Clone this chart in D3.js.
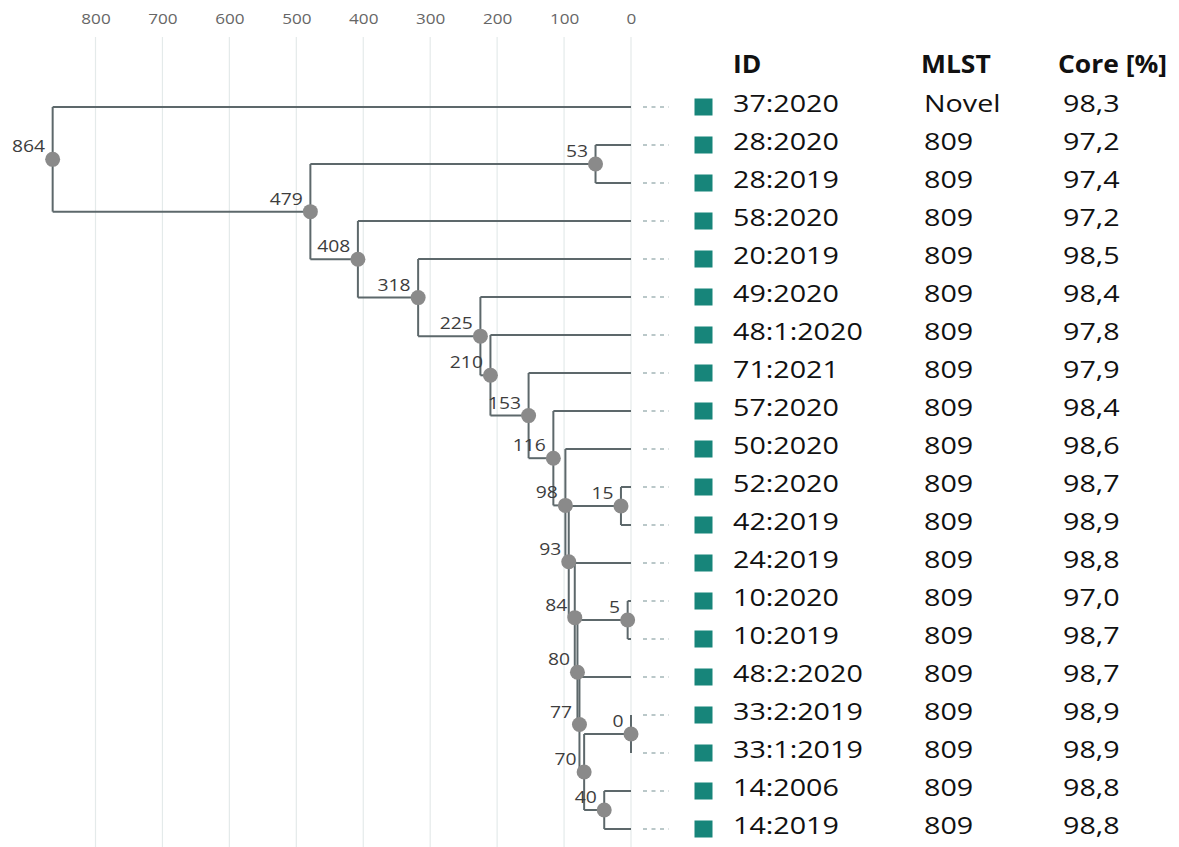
<!DOCTYPE html>
<html>
<head>
<meta charset="utf-8">
<script src="https://cdn.jsdelivr.net/npm/d3@7"></script>
<style>
  html, body { margin: 0; padding: 0; background: #fff; }
  svg { display: block; }
</style>
</head>
<body>
<svg id="chart" width="1179" height="847"></svg>
<script>
// Isolates, top to bottom, with their sequence type and core-genome percentage
const ids  = ["37:2020","28:2020","28:2019","58:2020","20:2019","49:2020","48:1:2020","71:2021",
              "57:2020","50:2020","52:2020","42:2019","24:2019","10:2020","10:2019","48:2:2020",
              "33:2:2019","33:1:2019","14:2006","14:2019"];
const mlst = ["Novel","809","809","809","809","809","809","809","809","809",
              "809","809","809","809","809","809","809","809","809","809"];
const core = ["98,3","97,2","97,4","97,2","98,5","98,4","97,8","97,9","98,4","98,6",
              "98,7","98,9","98,8","97,0","98,7","98,7","98,9","98,9","98,8","98,8"];

// Merge steps: [upper child, lower child, allele distance]; "m<i>" refers to merge i
const merges = [
  ["28:2020", "28:2019", 53],     // m0
  ["52:2020", "42:2019", 15],     // m1
  ["10:2020", "10:2019", 5],      // m2
  ["33:2:2019", "33:1:2019", 0],  // m3
  ["14:2006", "14:2019", 40],     // m4
  ["m3", "m4", 70],               // m5
  ["48:2:2020", "m5", 77],        // m6
  ["m2", "m6", 80],               // m7
  ["24:2019", "m7", 84],          // m8
  ["m1", "m8", 93],               // m9
  ["50:2020", "m9", 98],          // m10
  ["57:2020", "m10", 116],        // m11
  ["71:2021", "m11", 153],        // m12
  ["48:1:2020", "m12", 210],      // m13
  ["49:2020", "m13", 225],        // m14
  ["20:2019", "m14", 318],        // m15
  ["58:2020", "m15", 408],        // m16
  ["m0", "m16", 479],             // m17
  ["37:2020", "m17", 864]         // m18
];

const axisTicks = [0, 100, 200, 300, 400, 500, 600, 700, 800];
const headers = ["ID", "MLST", "Core [%]"];

// ---------------------------------------------------------------
const svg = d3.select("#chart");
const FONT = "'Open Sans', 'Noto Sans', sans-serif";

const x = d3.scaleLinear().domain([0, 800]).range([631, 95.5]);
const y = d3.scalePoint().domain(ids).range([107, 829]);

// text placed at (tx, ty) and stretched horizontally around its anchor
function stretchedText(sel, sx) {
  return sel.attr("transform", d => `translate(${d.tx},${d.ty}) scale(${sx},1)`);
}

// build the hierarchy from the merge list
function buildNode(key) {
  if (/^m\d+$/.test(key)) {
    const m = merges[+key.slice(1)];
    return { name: key, dist: m[2], children: [buildNode(m[0]), buildNode(m[1])] };
  }
  return { name: key, dist: 0 };
}
const root = d3.hierarchy(buildNode("m" + (merges.length - 1)));
root.eachAfter(n => {
  n.px = x(n.data.dist);
  if (n.children) {
    const ys = n.children.map(c => c.py);
    n.py = (d3.min(ys) + d3.max(ys)) / 2;
  } else {
    n.py = y(n.data.name);
  }
});

// grid + axis labels
svg.append("g").selectAll("line").data(axisTicks).join("line")
  .attr("x1", d => x(d)).attr("x2", d => x(d))
  .attr("y1", 37).attr("y2", 847)
  .attr("stroke", "#e4eaea").attr("stroke-width", 1.2);
const axisG = svg.append("g").attr("transform", "translate(0,24)")
  .call(d3.axisTop(x).tickValues(axisTicks).tickSize(0).tickPadding(0));
axisG.select(".domain").remove();
axisG.selectAll("text")
  .attr("font-family", FONT).attr("font-size", 14.5).attr("fill", "#666")
  .attr("dy", 0)
  .attr("transform", "scale(1.18,1)");

// branches
const gTree = svg.append("g").attr("fill", "none").attr("stroke", "#5d686b").attr("stroke-width", 2);
const inner = root.descendants().filter(n => n.children);
// vertical span of each internal node
gTree.selectAll("line.v").data(inner).join("line")
  .attr("class", "v")
  .attr("x1", d => d.px).attr("x2", d => d.px)
  .attr("y1", d => d3.min(d.children, c => c.py))
  .attr("y2", d => d3.max(d.children, c => c.py));
// horizontal branch to each child
gTree.selectAll("line.h").data(root.links()).join("line")
  .attr("class", "h")
  .attr("x1", d => d.source.px).attr("x2", d => d.target.px)
  .attr("y1", d => d.target.py).attr("y2", d => d.target.py);

// internal nodes with their distances
svg.append("g").selectAll("circle").data(inner).join("circle")
  .attr("cx", d => d.px).attr("cy", d => d.py).attr("r", 7.5)
  .attr("fill", "#8a8a8a");
stretchedText(
  svg.append("g").selectAll("text")
    .data(inner.map(n => ({ tx: n.px - 7.5, ty: n.py - 7, t: n.data.dist })))
    .join("text")
    .attr("text-anchor", "end").attr("font-family", FONT).attr("font-size", 16.5)
    .attr("fill", "#3d3d3d").text(d => d.t), 1.17);

// leader dashes and colour keys
const rows = svg.append("g");
rows.selectAll("line").data(ids).join("line")
  .attr("x1", 643).attr("x2", 669)
  .attr("y1", d => y(d)).attr("y2", d => y(d))
  .attr("stroke", "#a4b6b8").attr("stroke-width", 1.4).attr("stroke-dasharray", "4,4.5");
rows.selectAll("rect").data(ids).join("rect")
  .attr("x", 694.5).attr("y", d => y(d) - 8.5)
  .attr("width", 18).attr("height", 17)
  .attr("fill", "#17857a");

// table columns
const colX = [733, 924, 1063];
[ids, mlst, core].forEach((vals, ci) => {
  stretchedText(
    svg.append("g").selectAll("text")
      .data(vals.map((v, i) => ({ tx: colX[ci], ty: y(ids[i]) + 4.5, t: v })))
      .join("text")
      .attr("font-family", FONT).attr("font-size", 23.5).attr("fill", "#111")
      .text(d => d.t), 1.22);
});
const headX = [733, 921, 1058];
stretchedText(
  svg.append("g").selectAll("text")
    .data(headers.map((h, i) => ({ tx: headX[i], ty: 73, t: h })))
    .join("text")
    .attr("font-family", FONT).attr("font-size", 24.5).attr("font-weight", 700)
    .attr("fill", "#111").text(d => d.t), 1.08);
</script>
</body>
</html>
